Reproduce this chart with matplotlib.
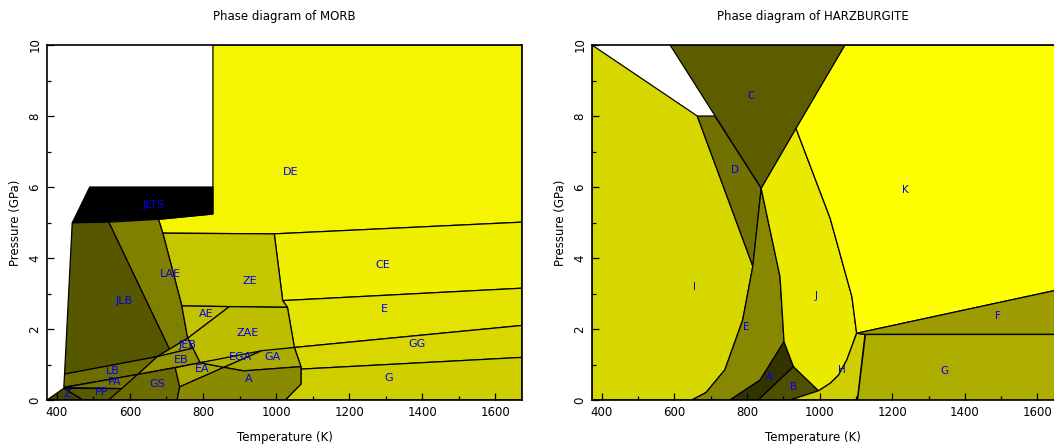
import matplotlib
matplotlib.use("Agg")
import matplotlib.pyplot as plt
from matplotlib.patches import Polygon
from matplotlib.ticker import MultipleLocator

# axis ranges (K, GPa)
T_RANGE = (373, 1673)
P_RANGE = (0, 10)

# ---- MORB phase fields, vertices as (T [K], P [GPa]) ----
morb_DE = [(827, 10), (1673, 10), (1673, 5.01), (995, 4.68), (690, 4.70), (678, 5.09), (827, 5.24)]
morb_JLTS = [(490, 6.0), (827, 6.0), (827, 5.24), (678, 5.09), (442, 4.99)]
morb_CE = [(995, 4.68), (1673, 5.01), (1673, 3.15), (1018, 2.80)]
morb_E = [(1018, 2.80), (1673, 3.15), (1673, 2.10), (1050, 1.48), (1031, 2.61)]
morb_GG = [(1050, 1.48), (1673, 2.10), (1673, 1.20), (1068, 0.87), (1068, 0.94)]
morb_G = [(1068, 0.87), (1673, 1.20), (1673, 0), (1025, 0), (1068, 0.45)]
morb_ZE = [(690, 4.70), (995, 4.68), (1018, 2.80), (1031, 2.61), (742, 2.65)]
morb_LAE = [(542, 5.01), (678, 5.09), (690, 4.70), (742, 2.65), (758, 1.74), (708, 1.43)]
morb_JLB = [(442, 4.99), (542, 5.01), (708, 1.43), (674, 1.22), (421, 0.73)]
morb_AE = [(742, 2.65), (872, 2.63), (758, 1.74)]
morb_ZAE = [(872, 2.63), (1031, 2.61), (1050, 1.48), (792, 1.05), (758, 1.74)]
morb_JEB = [(708, 1.43), (758, 1.74), (772, 1.46), (674, 1.22)]
morb_EB = [(674, 1.22), (772, 1.46), (792, 1.05), (621, 0.72)]
morb_LB = [(421, 0.73), (674, 1.22), (621, 0.72), (419, 0.36)]
morb_PA = [(419, 0.35), (621, 0.72), (579, 0.32)]
morb_PP = [(419, 0.33), (579, 0.32), (542, 0), (471, 0)]
morb_Z = [(373, 0), (419, 0.33), (471, 0)]
morb_GS = [(542, 0), (621, 0.72), (724, 0.91), (736, 0.37), (729, 0)]
morb_EA = [(724, 0.91), (792, 1.05), (857, 0.92), (736, 0.37)]
morb_EGA = [(792, 1.05), (961, 1.39), (857, 0.92)]
morb_GA = [(961, 1.39), (1050, 1.48), (1068, 0.94), (911, 0.82), (857, 0.92)]
morb_A = [(736, 0.37), (857, 0.92), (911, 0.82), (1068, 0.94), (1068, 0.45), (1025, 0), (729, 0)]

morb_fields = {
    "DE": morb_DE, "JLTS": morb_JLTS, "CE": morb_CE, "E": morb_E, "GG": morb_GG,
    "G": morb_G, "ZE": morb_ZE, "LAE": morb_LAE, "JLB": morb_JLB, "AE": morb_AE,
    "ZAE": morb_ZAE, "JEB": morb_JEB, "EB": morb_EB, "LB": morb_LB, "PA": morb_PA,
    "PP": morb_PP, "Z": morb_Z, "GS": morb_GS, "EA": morb_EA, "EGA": morb_EGA,
    "GA": morb_GA, "A": morb_A,
}

# label positions (T, P)
morb_labels = {
    "DE": (1041, 6.42), "JLTS": (664, 5.49), "CE": (1293, 3.80), "E": (1295, 2.56),
    "GG": (1386, 1.58), "G": (1309, 0.62), "ZE": (929, 3.35), "LAE": (710, 3.55),
    "JLB": (585, 2.79), "AE": (809, 2.42), "ZAE": (921, 1.89), "JEB": (757, 1.55),
    "EB": (740, 1.13), "EGA": (902, 1.21), "GA": (989, 1.21), "EA": (798, 0.87),
    "A": (924, 0.59), "LB": (554, 0.82), "PA": (557, 0.51), "GS": (675, 0.45),
    "PP": (522, 0.23), "Z": (429, 0.17),
}

# ---- HARZBURGITE phase fields ----
harz_I = [(373, 10), (663, 8.0), (816, 3.77), (788, 2.25), (739, 0.85), (687, 0.21), (648, 0), (373, 0)]
harz_C = [(588, 10), (1070, 10), (839, 5.96)]
harz_D = [(663, 8.0), (711, 8.0), (839, 5.96), (816, 3.77)]
harz_E = [(816, 3.77), (839, 5.96), (891, 3.47), (902, 1.64), (836, 0.56), (753, 0),
          (648, 0), (687, 0.21), (739, 0.85), (788, 2.25)]
harz_A = [(902, 1.64), (928, 0.94), (831, 0), (753, 0), (836, 0.56)]
harz_B = [(928, 0.94), (997, 0.26), (919, 0), (831, 0)]
harz_J = [(839, 5.96), (935, 7.65), (1029, 5.12), (1089, 2.91), (1102, 1.88), (1075, 1.13),
          (1052, 0.70), (1029, 0.47), (997, 0.26), (928, 0.94), (902, 1.64), (891, 3.47)]
harz_H = [(997, 0.26), (1029, 0.47), (1052, 0.70), (1075, 1.13), (1102, 1.88), (1125, 1.85),
          (1104, 0), (919, 0)]
harz_K = [(1070, 10), (1673, 10), (1673, 3.14), (1102, 1.88), (1089, 2.91), (1029, 5.12), (935, 7.65)]
harz_F = [(1102, 1.88), (1673, 3.14), (1673, 1.85), (1125, 1.85)]
harz_G = [(1125, 1.85), (1673, 1.85), (1673, 0), (1104, 0)]

harz_fields = {
    "I": harz_I, "C": harz_C, "D": harz_D, "E": harz_E, "A": harz_A, "B": harz_B,
    "J": harz_J, "H": harz_H, "K": harz_K, "F": harz_F, "G": harz_G,
}

harz_labels = {
    "C": (811, 8.56), "D": (767, 6.48), "K": (1235, 5.92), "I": (654, 3.18),
    "J": (990, 2.93), "F": (1491, 2.37), "E": (797, 2.06), "G": (1345, 0.82),
    "H": (1062, 0.85), "A": (863, 0.65), "B": (927, 0.37),
}

# fill colours
morb_colors = {
    "DE": "#F5F500", "JLTS": "#000000", "CE": "#EFEF00", "E": "#E3E300", "GG": "#D8D800",
    "G": "#CFCF00", "ZE": "#C6C600", "LAE": "#808000", "JLB": "#575700", "AE": "#C2C200",
    "ZAE": "#BEBE00", "JEB": "#A0A000", "EB": "#969600", "LB": "#6E6E00", "PA": "#767600",
    "PP": "#5A5A00", "Z": "#464600", "GS": "#6C6C00", "EA": "#AAAA00", "EGA": "#B4B400",
    "GA": "#ACAC00", "A": "#8A8A00",
}
harz_colors = {
    "I": "#D7D700", "C": "#5D5D00", "D": "#717100", "E": "#878700", "A": "#333300",
    "B": "#4F4F00", "J": "#EAEA00", "H": "#CECE00", "K": "#FFFF00", "F": "#9C9C00",
    "G": "#ADAD00",
}


def draw_fields(ax, fields, colors, labels, fsize):
    for name, verts in fields.items():
        ax.add_patch(Polygon(verts, closed=True, facecolor=colors[name],
                             edgecolor="black", linewidth=0.9, zorder=1))
    for name, (t, p) in labels.items():
        ax.text(t, p, name, color="#0000EE", fontsize=fsize, ha="center", va="center", zorder=3)


def style_axes(ax, title, cx):
    ax.set_xlim(*T_RANGE)
    ax.set_ylim(*P_RANGE)
    ax.xaxis.set_major_locator(MultipleLocator(200))
    ax.xaxis.set_minor_locator(MultipleLocator(100))
    ax.yaxis.set_major_locator(MultipleLocator(2))
    ax.yaxis.set_minor_locator(MultipleLocator(1))
    ax.tick_params(which="both", direction="in", top=False, right=False, labelsize=8.5, pad=4)
    ax.tick_params(which="major", length=5, width=0.9)
    ax.tick_params(which="minor", length=3, width=0.9)
    for lab in ax.get_yticklabels():
        lab.set_rotation(90)
        lab.set_va("center")
    for sp in ax.spines.values():
        sp.set_linewidth(1.2)
        sp.set_zorder(4)
    ax.set_xlabel("Temperature (K)", fontsize=8.5)
    ax.set_ylabel("Pressure (GPa)", fontsize=8.5)
    ax.xaxis.set_label_coords(cx, -0.088)
    ax.yaxis.set_label_coords(-0.053, 0.5)
    ax.text(cx, 1.079, title, transform=ax.transAxes, ha="center", va="center", fontsize=8.5)


fig = plt.figure(figsize=(10.54, 4.44), dpi=100)
ax1 = fig.add_axes([0.0446, 0.0991, 0.4507, 0.7995])
ax2 = fig.add_axes([0.5617, 0.0991, 0.4477, 0.7995])

draw_fields(ax1, morb_fields, morb_colors, morb_labels, 8)
draw_fields(ax2, harz_fields, harz_colors, harz_labels, 7.5)
style_axes(ax1, "Phase diagram of MORB", 0.5)
style_axes(ax2, "Phase diagram of HARZBURGITE", 0.468)

fig.savefig("out.png", dpi=100)
